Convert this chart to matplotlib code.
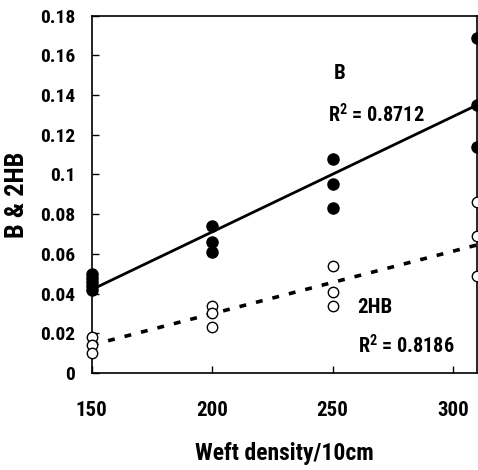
import matplotlib
matplotlib.use("Agg")
import matplotlib.pyplot as plt

plt.rcParams['font.family'] = ['Roboto Condensed', 'Liberation Sans', 'DejaVu Sans']
plt.rcParams['font.weight'] = 'bold'
plt.rcParams['mathtext.fontset'] = 'custom'
plt.rcParams['mathtext.rm'] = 'Roboto Condensed:bold'
plt.rcParams['mathtext.bf'] = 'Roboto Condensed:bold'

# data
x_B = [150, 150, 150, 150, 150, 200, 200, 200, 250, 250, 250, 310, 310, 310]
B = [0.042, 0.044, 0.046, 0.048, 0.050, 0.074, 0.066, 0.061, 0.108, 0.095, 0.083, 0.169, 0.135, 0.114]
x_H = [150, 150, 150, 200, 200, 200, 250, 250, 250, 310, 310, 310]
H2B = [0.018, 0.014, 0.010, 0.034, 0.030, 0.023, 0.054, 0.041, 0.034, 0.086, 0.069, 0.049]
trend_x = [150, 310]
trend_B = [0.042, 0.135]
trend_H = [0.0141, 0.0645]
xticks = [150, 200, 250, 300]
yticks = [0, 0.02, 0.04, 0.06, 0.08, 0.1, 0.12, 0.14, 0.16, 0.18]
ytick_labels = ['0', '0.02', '0.04', '0.06', '0.08', '0.1', '0.12', '0.14', '0.16', '0.18']

fig = plt.figure(figsize=(4.78, 4.70), dpi=100)
ax = fig.add_axes([0.1918, 0.2064, 0.8062, 0.7602])

ax.plot(trend_x, trend_B, color='black', lw=2.0, solid_capstyle='butt', zorder=2)
ax.plot(trend_x, trend_H, color='black', lw=2.6, linestyle=(0, (1.9, 2.8)), zorder=2)
ax.plot(x_B, B, 'o', color='black', markersize=8, zorder=3, clip_on=False)
ax.plot(x_H, H2B, 'o', markerfacecolor='white', markeredgecolor='black', markersize=7.5,
        markeredgewidth=1.0, zorder=3, clip_on=False)

ax.set_xlim(150, 310)
ax.set_ylim(0, 0.18)
ax.set_xticks(xticks)
ax.set_xticklabels([str(t) for t in xticks])
ax.set_yticks(yticks)
ax.set_yticklabels(ytick_labels)
ax.tick_params(axis='both', direction='in', length=5, width=1, labelsize=14)
ax.tick_params(axis='x', pad=20, labelsize=15)
ax.tick_params(axis='y', pad=12)
for lab in ax.get_xticklabels() + ax.get_yticklabels():
    lab.set_fontweight('bold')
for s in ax.spines.values():
    s.set_linewidth(1.2)

ax.set_xlabel('Weft density/10cm', fontsize=17, fontweight='bold', labelpad=16)
ax.set_ylabel('B & 2HB', fontsize=19, fontweight='bold', labelpad=8)

ax.text(253, 0.1481, 'B', fontsize=15, fontweight='bold', ha='center', va='baseline')
ax.text(248.3, 0.1264, r'R$^{2}$ = 0.8712', fontsize=14.5, fontweight='bold', ha='left', va='baseline')
ax.text(260.2, 0.0301, '2HB', fontsize=15, fontweight='bold', ha='left', va='baseline')
ax.text(260.6, 0.0100, r'R$^{2}$ = 0.8186', fontsize=14.5, fontweight='bold', ha='left', va='baseline')

fig.savefig('out.png', dpi=100)
